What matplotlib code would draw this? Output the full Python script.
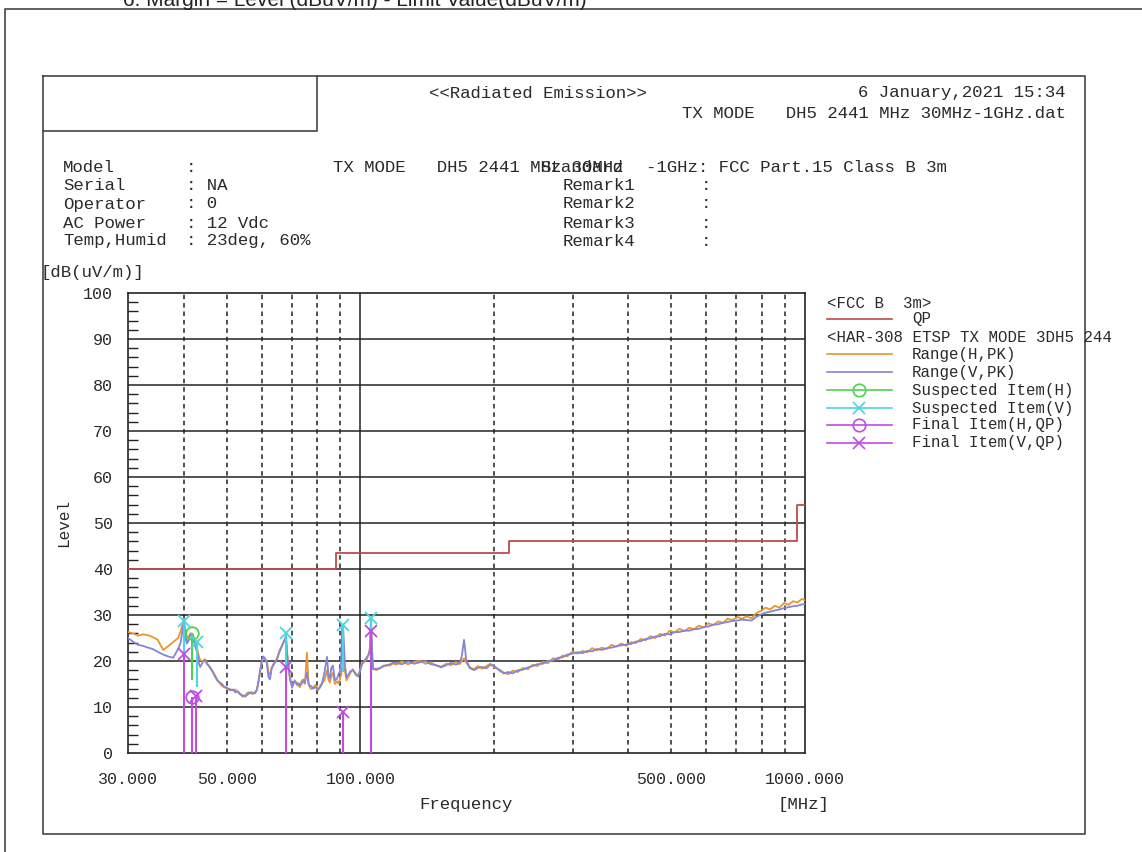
import matplotlib
matplotlib.use("Agg")
import matplotlib.pyplot as plt
from matplotlib.ticker import FixedLocator, MultipleLocator, NullFormatter

plt.rcParams['font.family'] = ['Liberation Mono', 'DejaVu Sans Mono']

# spectrum scan (MHz, dBuV/m)
freq_mhz = [30.0, 30.8, 31.6, 32.4, 33.3, 34.1, 35.0, 36.0, 36.9, 37.9, 38.9, 39.4, 39.8, 40.1, 40.4,
            40.7, 41.1, 41.4, 41.8, 42.0, 42.5, 42.9, 43.3, 43.6, 44.2, 44.7, 45.2, 45.8, 46.4, 47.0,
            47.6, 48.2, 48.8, 49.4, 50.1, 50.9, 51.7, 52.3, 53.0, 53.7, 54.4, 55.1, 55.9, 56.6, 57.3,
            58.0, 58.5, 59.0, 59.4, 59.9, 60.4, 61.0, 61.6, 62.1, 62.6, 63.1, 63.6, 64.2, 64.9, 65.4,
            65.9, 66.5, 67.0, 67.5, 68.0, 68.4, 68.7, 69.4, 70.2, 71.1, 72.0, 72.5, 73.1, 73.7, 74.3,
            75.0, 75.8, 76.4, 77.0, 77.6, 78.2, 79.2, 80.3, 81.1, 81.9, 83.0, 84.1, 84.7, 85.4, 86.0,
            86.7, 87.6, 88.6, 89.3, 90.0, 90.5, 90.9, 91.4, 92.3, 93.0, 93.8, 95.0, 96.2, 97.4, 98.7,
            99.8, 100.8, 102.1, 103.5, 104.3, 105.1, 105.6, 106.2, 106.7, 108.6, 110.7, 112.7, 114.7, 116.5, 118.4,
            120, 124, 128, 132, 136, 140, 144, 148, 152, 156, 160, 164, 167, 169, 171,
            173, 176, 180, 184, 188, 192, 196, 200, 205, 210, 215, 220, 226, 232, 238,
            244, 250, 257, 264, 271, 278, 285, 292, 300, 308, 316, 324, 332, 340, 349,
            358, 367, 376, 386, 396, 406, 416, 427, 438, 449, 460, 472, 484, 496, 509,
            522, 535, 549, 563, 577, 592, 607, 622, 638, 654, 670, 687, 704, 722, 740,
            758, 777, 796, 815, 835, 855, 876, 897, 918, 940, 962, 984, 1000]

range_h_pk = [26.3, 26.0, 25.5, 25.8, 25.6, 25.2, 24.6, 22.4, 23.2, 24.1, 25.0, 26.5, 28.0, 28.8, 25.0,
              24.0, 25.2, 26.0, 26.0, 25.7, 24.0, 22.8, 21.0, 20.2, 20.0, 20.4, 19.5, 18.6, 18.0, 17.0,
              16.0, 15.2, 14.6, 14.3, 14.0, 13.9, 13.6, 13.8, 13.2, 12.7, 12.2, 12.6, 13.2, 13.0, 12.8,
              13.3, 13.6, 15.5, 17.4, 19.5, 20.8, 20.5, 19.8, 17.5, 17.0, 18.5, 19.2, 19.8, 20.5, 21.5,
              22.5, 23.2, 24.0, 24.6, 25.2, 22.0, 20.0, 16.5, 14.6, 15.6, 15.2, 14.6, 14.3, 15.6, 16.0,
              15.0, 21.8, 15.0, 14.2, 13.9, 14.2, 14.8, 13.6, 14.6, 15.2, 15.8, 18.0, 16.0, 15.3, 16.8,
              17.4, 15.0, 15.6, 15.1, 16.2, 17.0, 18.5, 19.0, 17.8, 15.8, 16.5, 17.5, 18.2, 17.0, 16.8,
              18.0, 19.5, 19.8, 20.5, 21.5, 23.0, 29.0, 22.0, 18.5, 18.0, 18.5, 18.8, 19.2, 19.0, 19.5,
              19.2, 19.9, 19.3, 19.8, 20.1, 19.4, 19.7, 19.0, 18.8, 19.4, 19.1, 19.8, 19.3, 19.9, 20.6,
              19.6, 18.7, 18.2, 18.9, 18.3, 18.9, 19.4, 18.6, 18.2, 17.5, 17.1, 17.9, 17.6, 18.5, 18.2,
              19.2, 18.9, 19.8, 19.5, 20.6, 20.3, 21.2, 21.0, 22.1, 21.6, 22.2, 21.9, 22.8, 22.3, 22.9,
              22.6, 23.5, 23.1, 23.8, 23.3, 24.1, 23.9, 24.8, 24.5, 25.4, 25.0, 25.9, 25.5, 26.6, 26.2,
              27.0, 26.5, 27.2, 26.9, 27.7, 27.3, 28.2, 27.8, 28.6, 28.3, 29.2, 28.9, 29.6, 29.2, 29.7,
              29.3, 30.4, 30.9, 31.6, 31.2, 32.0, 31.6, 32.6, 32.2, 33.0, 32.7, 33.5, 33.2]

range_v_pk = [25.0, 24.2, 23.5, 23.3, 22.9, 22.6, 22.0, 21.4, 21.0, 20.7, 22.6, 24.0, 26.8, 29.0, 25.5,
              23.8, 24.5, 25.6, 25.8, 25.0, 23.2, 22.0, 19.5, 18.7, 19.8, 20.2, 19.3, 18.8, 17.8, 16.8,
              15.8, 15.4, 15.0, 14.4, 14.2, 13.6, 13.8, 13.2, 13.4, 12.8, 12.5, 12.3, 12.8, 13.2, 13.1,
              13.0, 13.9, 15.8, 17.6, 19.8, 21.0, 20.6, 19.5, 16.5, 16.0, 18.2, 19.0, 19.6, 20.3, 21.4,
              22.2, 23.1, 23.8, 24.5, 25.5, 21.5, 19.8, 16.0, 14.2, 15.8, 14.8, 15.2, 14.8, 15.0, 15.6,
              15.4, 17.5, 15.2, 14.6, 14.5, 14.0, 14.3, 13.9, 14.2, 15.0, 17.5, 20.9, 17.0, 16.2, 18.5,
              19.0, 15.8, 16.2, 17.2, 17.8, 20.0, 27.0, 27.5, 19.0, 16.5, 16.9, 17.8, 18.0, 17.4, 16.6,
              17.8, 19.3, 20.1, 20.9, 21.3, 22.5, 28.8, 22.5, 18.2, 18.3, 18.4, 19.0, 19.0, 19.3, 19.6,
              19.6, 19.3, 19.9, 19.4, 19.7, 20.0, 19.3, 19.1, 18.6, 19.1, 19.6, 19.2, 19.6, 21.0, 24.6,
              20.2, 18.5, 18.0, 18.5, 18.7, 18.4, 19.2, 18.9, 18.0, 17.3, 17.6, 17.3, 18.0, 18.1, 18.6,
              18.9, 19.3, 19.4, 20.0, 20.1, 20.7, 20.8, 21.4, 21.6, 21.9, 21.7, 22.2, 22.1, 22.6, 22.4,
              22.8, 22.9, 23.2, 23.4, 23.6, 23.7, 24.2, 24.3, 24.8, 24.9, 25.3, 25.4, 25.9, 25.8, 26.3,
              26.3, 26.6, 26.6, 26.9, 27.0, 27.4, 27.5, 27.9, 28.0, 28.3, 28.5, 28.7, 28.8, 29.0, 28.9,
              28.8, 29.6, 30.1, 30.5, 30.7, 31.0, 31.2, 31.5, 31.7, 31.9, 32.0, 32.3, 32.4]

# FCC Part 15 class B 3 m QP limit
limit_freq = [30, 88, 88, 216, 216, 960, 960, 1000]
limit_qp = [40, 40, 43.5, 43.5, 46, 46, 54, 54]

# suspected items (peak) and final QP items: freq, level, stem bottom
susp_h_freq = [41.8]
susp_h_level = [26.0]
susp_h_base = [15.9]
susp_v_freq = [40.1, 42.9, 68.0, 91.4, 105.6]
susp_v_level = [28.7, 24.2, 26.0, 27.8, 29.3]
susp_v_base = [21.5, 14.4, 18.7, 17.6, 26.5]
final_h_freq = [41.7]
final_h_qp = [12.2]
final_v_freq = [40.1, 42.7, 68.0, 91.4, 105.6]
final_v_qp = [21.5, 12.5, 18.7, 8.9, 26.5]

c_limit = '#c04a4a'
c_h = '#e8962e'
c_v = '#8484d8'
c_sh = '#4cd44c'
c_sv = '#4cd4e0'
c_fin = '#c04ce0'
c_txt = '#2a2a2a'

W, H = 1142, 852
fig = plt.figure(figsize=(W / 100, H / 100), dpi=100)

# page overlay in pixel coordinates for frames, header and legend
ov = fig.add_axes([0, 0, 1, 1])
ov.set_xlim(0, W)
ov.set_ylim(H, 0)
ov.axis('off')

ov.text(123, 5.5, '6. Margin = Level (dBuV/m) - Limit Value(dBuV/m)', family='Liberation Sans',
        fontsize=15, color='#222', va='baseline', ha='left')
ov.plot([5, 5, W], [H, 9, 9], color='#444', lw=1.2)
ov.plot([43, 1085, 1085, 43, 43], [76, 76, 834, 834, 76], color='#444', lw=1.2)
ov.plot([43, 317, 317], [131, 131, 76], color='#444', lw=1.2)

fs = 12.5
ov.text(429, 93, '<<Radiated Emission>>', fontsize=fs, color=c_txt, va='center')
ov.text(1066, 93, '6 January,2021 15:34', fontsize=fs, color=c_txt, va='center', ha='right')
ov.text(1066, 113, 'TX MODE   DH5 2441 MHz 30MHz-1GHz.dat', fontsize=fs, color=c_txt,
        va='center', ha='right')

rows = [('Model', ''), ('Serial', 'NA'), ('Operator', '0'), ('AC Power', '12 Vdc'),
        ('Temp,Humid', '23deg, 60%')]
row_y = [167, 186, 204, 223, 241]
for (name, val), yy in zip(rows, row_y):
    ov.text(63, yy, name, fontsize=fs, color=c_txt, va='center')
    ov.text(186, yy, ': ' + val, fontsize=fs, color=c_txt, va='center')
ov.text(333, 167, 'TX MODE   DH5 2441 MHz 30MHz', fontsize=fs, color=c_txt, va='center')
ov.text(540, 167, 'Standard', fontsize=fs, color=c_txt, va='center')
ov.text(947, 167, '-1GHz: FCC Part.15 Class B 3m', fontsize=fs, color=c_txt,
        va='center', ha='right')
for i, yy in enumerate(row_y[1:]):
    ov.text(563, yy, f'Remark{i + 1}', fontsize=fs, color=c_txt, va='center')
    ov.text(701, yy, ':', fontsize=fs, color=c_txt, va='center')

ov.text(40, 272, '[dB(uV/m)]', fontsize=12.5, color=c_txt, va='center')
ov.text(64, 523, 'Level', fontsize=11.5, color=c_txt, va='center', ha='center', rotation=90)
ov.text(466, 805, 'Frequency', fontsize=12.5, color=c_txt, va='center', ha='center')
ov.text(803, 805, '[MHz]', fontsize=12.5, color=c_txt, va='center', ha='center')

# legend, drawn by hand like the EMI software does
lfs = 11.3
ov.text(827, 303, '<FCC B  3m>', fontsize=lfs, color=c_txt, va='center')
ov.text(827, 337, '<HAR-308 ETSP TX MODE 3DH5 244', fontsize=lfs, color=c_txt, va='center')
leg = [(319, 'QP', c_limit, None), (354, 'Range(H,PK)', c_h, None), (372, 'Range(V,PK)', c_v, None),
       (390, 'Suspected Item(H)', c_sh, 'o'), (408, 'Suspected Item(V)', c_sv, 'x'),
       (425, 'Final Item(H,QP)', c_fin, 'o'), (443, 'Final Item(V,QP)', c_fin, 'x')]
for yy, lab, col, mk in leg:
    ov.plot([827, 892], [yy, yy], color=col, lw=1.2)
    if mk:
        ov.plot([859], [yy], marker=mk, ms=9, mfc='none', mec=col, mew=1.2)
    ov.text(912, yy, lab, fontsize=lfs, color=c_txt, va='center')

# main chart
ax = fig.add_axes([128 / W, 1 - 753 / H, 677 / W, 460 / H])
ax.patch.set_alpha(0)
ax.set_xscale('log')
ax.set_xlim(30, 1000)
ax.set_ylim(0, 100)

ax.xaxis.set_major_locator(FixedLocator([30, 50, 100, 500, 1000]))
ax.xaxis.set_minor_locator(FixedLocator([]))
ax.set_xticklabels(['30.000', '50.000', '100.000', '500.000', '1000.000'])
ax.xaxis.set_minor_formatter(NullFormatter())
ax.yaxis.set_major_locator(MultipleLocator(10))
ax.yaxis.set_minor_locator(MultipleLocator(2))
ax.tick_params(axis='x', which='major', length=0, pad=14, labelsize=12, labelcolor=c_txt)
ax.tick_params(axis='y', which='major', length=0, pad=11, labelsize=12, labelcolor=c_txt)
ax.tick_params(axis='y', which='minor', direction='in', length=7, width=1, color='#222')
for s in ax.spines.values():
    s.set_color('#222')
    s.set_linewidth(1.2)

for lv in range(10, 100, 10):
    ax.axhline(lv, color='#222', lw=1.1, zorder=1)
for f in [40, 50, 60, 70, 80, 90, 200, 300, 400, 500, 600, 700, 800, 900]:
    ax.axvline(f, color='#222', lw=1.1, ls=(0, (3, 2.5)), zorder=1)
ax.axvline(100, color='#222', lw=1.1, zorder=1)

ax.plot(limit_freq, limit_qp, color=c_limit, lw=1.3, zorder=3)
ax.plot(freq_mhz, range_h_pk, color=c_h, lw=1.3, zorder=3)
ax.plot(freq_mhz, range_v_pk, color=c_v, lw=1.3, zorder=4)

ax.vlines(susp_h_freq, susp_h_base, susp_h_level, color=c_sh, lw=1.5, zorder=5)
ax.vlines(susp_v_freq, susp_v_base, susp_v_level, color=c_sv, lw=1.5, zorder=5)
ax.vlines(final_h_freq, 0, final_h_qp, color=c_fin, lw=1.5, zorder=6)
ax.vlines(final_v_freq, 0, final_v_qp, color=c_fin, lw=1.5, zorder=6)
ax.plot(susp_h_freq, susp_h_level, ls='none', marker='o', ms=9, mfc='none', mec=c_sh, mew=1.3, zorder=7)
ax.plot(susp_v_freq, susp_v_level, ls='none', marker='x', ms=9, mec=c_sv, mew=1.3, zorder=7)
ax.plot(final_h_freq, final_h_qp, ls='none', marker='o', ms=9, mfc='none', mec=c_fin, mew=1.3, zorder=7)
ax.plot(final_v_freq, final_v_qp, ls='none', marker='x', ms=9, mec=c_fin, mew=1.3, zorder=7)

fig.savefig('out.png', dpi=100)
